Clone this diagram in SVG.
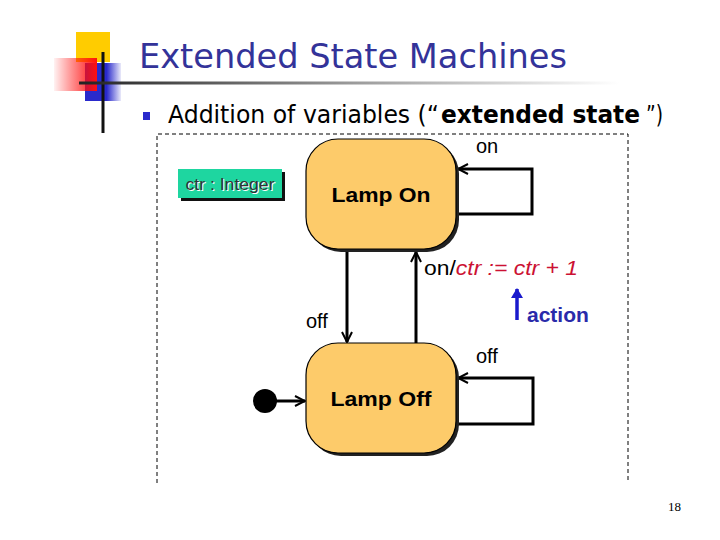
<svg xmlns="http://www.w3.org/2000/svg" width="720" height="540" viewBox="0 0 720 540">
  <defs>
    <linearGradient id="redg" x1="0" y1="0" x2="1" y2="0">
      <stop offset="0" stop-color="#ff0000" stop-opacity="0.05"/>
      <stop offset="1" stop-color="#ff1010" stop-opacity="1"/>
    </linearGradient>
    <linearGradient id="blueg" x1="0" y1="0" x2="1" y2="0">
      <stop offset="0" stop-color="#2a2acc"/>
      <stop offset="0.6" stop-color="#2a2acc"/>
      <stop offset="1" stop-color="#2a2acc" stop-opacity="0.1"/>
    </linearGradient>
    <linearGradient id="lineg" x1="0" y1="0" x2="1" y2="0">
      <stop offset="0" stop-color="#222"/>
      <stop offset="0.5" stop-color="#999"/>
      <stop offset="1" stop-color="#fff"/>
    </linearGradient>
    <marker id="arr" viewBox="0 0 12 12" refX="11" refY="6" markerWidth="12" markerHeight="12" markerUnits="userSpaceOnUse" orient="auto">
      <path d="M1,1 L11,6 L1,11" fill="none" stroke="#000" stroke-width="2"/>
    </marker>
    <marker id="barr" viewBox="0 0 10 12" refX="9" refY="6" markerWidth="10" markerHeight="12" markerUnits="userSpaceOnUse" orient="auto">
      <path d="M0,0 L10,6 L0,12 Z" fill="#1a1acc"/>
    </marker>
  </defs>
  <style>
    .state { fill: #fdcb6a; stroke: #000; stroke-width: 1.2; }
    .shadow { fill: #222; }
    .sname { font-family: "Liberation Sans", Arial, sans-serif; font-weight: bold; font-size: 20px; fill: #000; }
    .lbl { font-family: "Liberation Sans", Arial, sans-serif; font-size: 20px; fill: #000; }
    .sub { font-family: "DejaVu Sans", Verdana, sans-serif; font-size: 24px; fill: #000; }
    .conn { fill: none; stroke: #000; stroke-width: 3; }
  </style>
  <rect width="720" height="540" fill="#fff"/>

  <!-- logo -->
  <g id="logo">
    <rect x="76" y="32" width="34" height="30" fill="#ffcc00"/>
    <rect x="85" y="63" width="36" height="38" fill="url(#blueg)"/>
    <rect x="54" y="58" width="43" height="33" fill="url(#redg)"/>
    <line x1="103" y1="52" x2="103" y2="133" stroke="#111" stroke-width="3"/>
  </g>
  <rect x="79" y="81.5" width="540" height="3" fill="url(#lineg)"/>

  <g id="title">
    <text x="139" y="68" font-family="DejaVu Sans, Verdana, sans-serif" font-size="34" fill="#333399" textLength="428" lengthAdjust="spacingAndGlyphs">Extended State Machines</text>
  </g>
  <g id="bullet">
    <rect x="143" y="112" width="7" height="8" fill="#2a2acc"/>
    <text class="sub" x="168" y="123" textLength="271" lengthAdjust="spacingAndGlyphs">Addition of variables (“</text>
    <text class="sub" x="441" y="123" font-weight="bold" textLength="199" lengthAdjust="spacingAndGlyphs">extended state</text>
    <text class="sub" x="646" y="123" textLength="17" lengthAdjust="spacingAndGlyphs">”)</text>
  </g>

  <!-- dashed frame -->
  <path d="M157,483 L157,134 L628,134 L628,483" fill="none" stroke="#000" stroke-width="1" stroke-dasharray="4,3"/>

  <!-- variable declaration -->
  <g id="ctr">
    <rect x="181" y="172" width="104" height="29" fill="#111"/>
    <rect x="178" y="169" width="104" height="29" fill="#1ed6a0"/>
    <text x="231" y="191" text-anchor="middle" font-family="Liberation Sans, Arial, sans-serif" font-size="16" fill="#fff" textLength="89" lengthAdjust="spacingAndGlyphs">ctr : Integer</text>
    <text x="230" y="190" text-anchor="middle" font-family="Liberation Sans, Arial, sans-serif" font-size="16" fill="#333" textLength="89" lengthAdjust="spacingAndGlyphs">ctr : Integer</text>
  </g>

  <!-- connectors -->
  <g id="connectors">
    <path class="conn" d="M457,214 L532,214 L532,169 L458,169" marker-end="url(#arr)"/>
    <path class="conn" d="M347,251 L347,342" marker-end="url(#arr)"/>
    <path class="conn" d="M416,343 L416,252" marker-end="url(#arr)"/>
    <path class="conn" d="M457,424 L533,424 L533,378 L458,378" marker-end="url(#arr)"/>
    <circle cx="265" cy="401" r="12" fill="#000"/>
    <path class="conn" d="M276,401 L305,401" marker-end="url(#arr)"/>
    <line x1="517" y1="320" x2="517" y2="289" stroke="#1a1acc" stroke-width="3.5" marker-end="url(#barr)"/>
  </g>

  <g id="labels">
    <text class="lbl" x="476" y="153">on</text>
    <text class="lbl" x="424" y="275" textLength="154" lengthAdjust="spacingAndGlyphs">on/<tspan fill="#cc1133" font-style="italic">ctr := ctr + 1</tspan></text>
    <text class="lbl" x="306" y="328">off</text>
    <text class="lbl" x="476" y="363">off</text>
    <text x="527" y="322" font-family="Liberation Sans, Arial, sans-serif" font-weight="bold" font-size="21" fill="#2a2aaa">action</text>
  </g>

  <g id="lampOn">
    <rect x="309" y="142" width="150" height="110" rx="32" ry="32" class="shadow"/>
    <rect x="306" y="139" width="150" height="110" rx="32" ry="32" class="state"/>
    <text class="sname" x="381" y="202" text-anchor="middle" textLength="99" lengthAdjust="spacingAndGlyphs">Lamp On</text>
  </g>

  <g id="lampOff">
    <rect x="309" y="346" width="150" height="110" rx="32" ry="32" class="shadow"/>
    <rect x="306" y="343" width="150" height="110" rx="32" ry="32" class="state"/>
    <text class="sname" x="381" y="406" text-anchor="middle" textLength="101" lengthAdjust="spacingAndGlyphs">Lamp Off</text>
  </g>

  <text x="668" y="511" font-family="Liberation Serif, Times New Roman, serif" font-size="13" fill="#000">18</text>
</svg>
